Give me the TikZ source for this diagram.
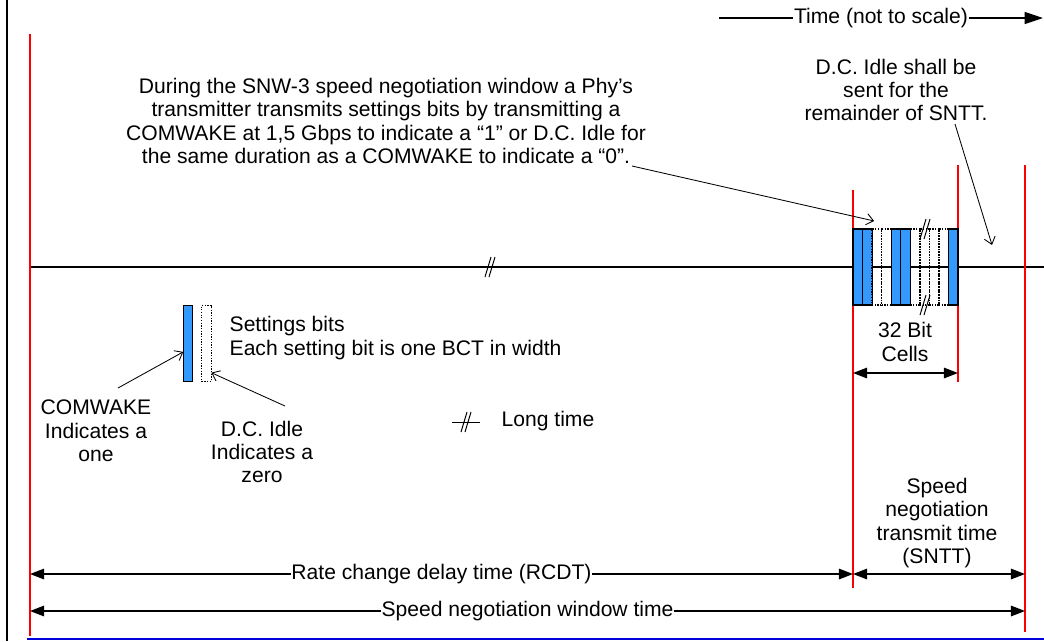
\documentclass[tikz,border=0pt]{standalone}
\usepackage{fontspec}
\setmainfont{Liberation Sans}
\usepackage{xcolor}
\usetikzlibrary{arrows.meta,positioning,calc}
\definecolor{bitblue}{HTML}{3399FF}
\definecolor{limitred}{HTML}{FF0000}
\definecolor{edgeblue}{HTML}{0000DD}
\tikzset{
  lbl/.style={font=\fontsize{15}{16.6}\selectfont,align=center,inner sep=1pt},
  bound/.style={limitred,line width=1pt},
  dim/.style={{Triangle[length=10pt,width=7.5pt]}-{Triangle[length=10pt,width=7.5pt]},line width=0.9pt},
  timear/.style={-{Triangle[length=13pt,width=8.5pt]},line width=0.9pt},
  ptr/.style={-{Straight Barb[length=5pt,width=8pt]},line width=0.6pt},
  bitcell/.style={minimum width=0.239cm,minimum height=1.9cm,inner sep=0pt,outer sep=0pt},
  onebit/.style={draw,line width=0.9pt,fill=bitblue},
  zerobit/.style={draw,densely dotted,line width=0.9pt},
  brk/.pic={\draw[line width=0.7pt] (-5,10) -- (1,-10) (-1,10) -- (5,-10);}
}

\begin{document}
\begin{tikzpicture}[x=0.025cm,y=-0.025cm]
\useasboundingbox (0,0) rectangle (1044,641);
\draw[line width=1.1pt] (7,0) -- (7,641);
\draw[edgeblue,line width=1.8pt] (27,639) -- (1044,639);

% time axis with break
\draw[line width=0.8pt] (30,267) -- (1044,267);
\pic at (490,267) {brk};

% window limits
\foreach \n/\x/\t/\b in {ra/30/34/636, rb/853/190/588, rc/958/165/382, rd/1025/165/632} {
  \coordinate (\n) at (\x,\t);
  \draw[bound] (\n) -- (\x,\b);
}

% 32 bit cells of SNTT
\foreach \i/\s in {0/onebit,1/onebit,2/zerobit,3/zerobit,4/onebit,5/onebit,6/zerobit,7/zerobit,8/zerobit,9/zerobit,10/onebit}
  \node[bitcell,\s] (cell\i) at (857.8+9.55*\i,267) {};
\pic at (925,229) {brk};
\pic at (925,305) {brk};

\coordinate (t0) at (719,18);
\coordinate (t1) at (1043,18);
\draw[timear] (t0) -- node[lbl,fill=white,inner xsep=0.5pt] (timelbl) {Time (not to scale)} (t1);

\node[lbl] (note) at (386,121) {During the SNW-3 speed negotiation window a Phy’s\\transmitter transmits settings bits by transmitting a\\COMWAKE at 1,5 Gbps to indicate a “1” or D.C. Idle for\\the same duration as a COMWAKE to indicate a “0”.};
\coordinate (noteend) at (632,166);
\draw[ptr] (noteend) -- ([xshift=0.05cm,yshift=0.2cm]cell1.north east);

\node[lbl] (idlenote) at (896,90) {D.C. Idle shall be\\sent for the\\remainder of SNTT.};
\coordinate (idlefrom) at (955,124);
\coordinate (idleto) at (992,245);
\draw[ptr] (idlefrom) -- (idleto);

% legend
\node[bitcell,onebit] (legone) at (188,343.5) {};
\node[bitcell,zerobit,right=0.225cm of legone] (legzero) {};
\node[lbl,align=left,anchor=west] (legtxt) at (228,338) {Settings bits\\Each setting bit is one BCT in width};
\node[lbl] (onetxt) at (96,431) {COMWAKE\\Indicates a\\one};
\node[lbl] (zerotxt) at (262,452) {D.C. Idle\\Indicates a\\zero};
\coordinate (onefrom) at (118,388);
\coordinate (zerofrom) at (285,406);
\draw[ptr] (onefrom) -- ([yshift=-0.21cm]legone.west);
\draw[ptr] (zerofrom) -- ([yshift=-0.73cm]legzero.east);
\draw[line width=0.7pt] (452,422) -- (480,422);
\pic at (466,422) {brk};
\node[lbl,anchor=west] (longtxt) at (500,421) {Long time};

% dimensions
\node[lbl] (cellstxt) at (905,342) {32 Bit\\Cells};
\draw[dim] (rb |- 0,373) -- (rc |- 0,373);
\node[lbl] (sntttxt) at (937,523) {Speed\\negotiation\\transmit time\\(SNTT)};
\draw[dim] (ra |- 0,574) -- node[lbl,fill=white,inner xsep=0.5pt] (rcdt) {Rate change delay time (RCDT)} (rb |- 0,574);
\draw[dim] (rb |- 0,574) -- (rd |- 0,574);
\draw[dim] (ra |- 0,611) -- node[lbl,fill=white,inner xsep=0.5pt] (snwt) {Speed negotiation window time} (rd |- 0,611);
\end{tikzpicture}
\end{document}
